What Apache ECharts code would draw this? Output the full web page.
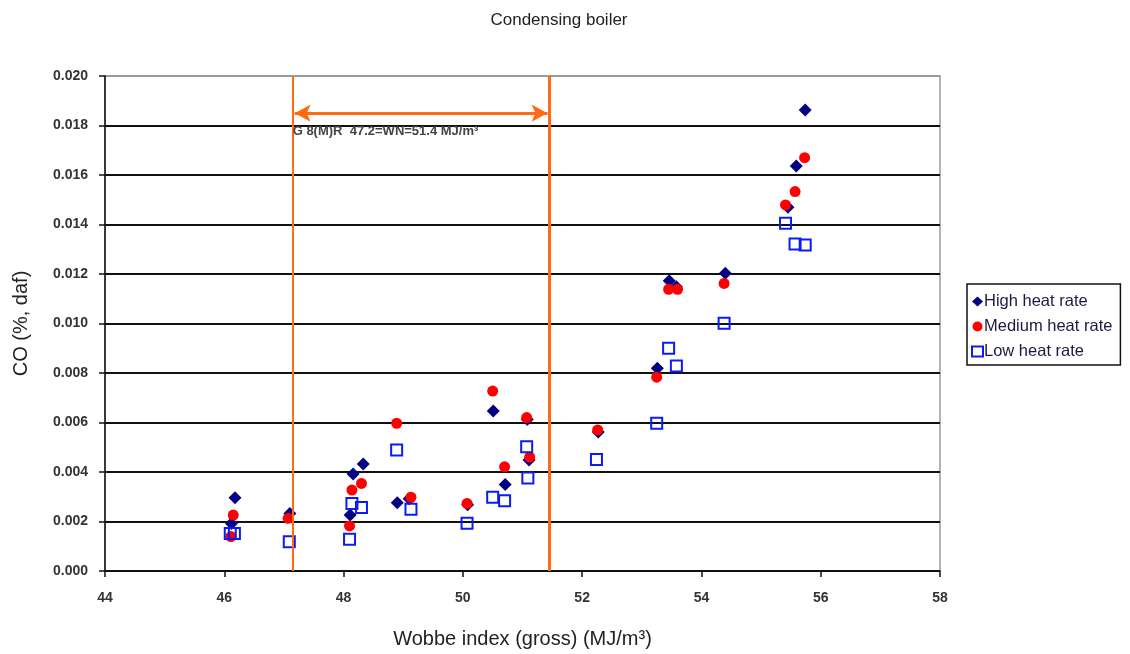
<!DOCTYPE html>
<html>
<head>
<meta charset="utf-8">
<title>Condensing boiler</title>
<script src="https://cdn.jsdelivr.net/npm/echarts@6/dist/echarts.min.js"></script>
<style>
  html, body { margin: 0; padding: 0; background: #fff; }
  #chart { width: 1130px; height: 654px; }
</style>
</head>
<body>
<div id="chart"></div>
<script>
// Wobbe index (x) vs CO (y)
const highHeat = [
  [46.18, 0.00296], [46.12, 0.00192], [47.10, 0.00232], [48.11, 0.00226],
  [48.16, 0.00392], [48.33, 0.00432], [48.90, 0.00276], [49.10, 0.00292],
  [50.08, 0.00268], [50.51, 0.00646], [50.71, 0.00350], [51.08, 0.00612],
  [51.11, 0.00448], [52.27, 0.00562], [53.26, 0.00819], [53.46, 0.01173],
  [53.58, 0.01148], [54.40, 0.01203], [55.45, 0.01470], [55.59, 0.01636],
  [55.74, 0.01863]
];
const mediumHeat = [
  [46.15, 0.00226], [46.11, 0.00139], [47.07, 0.00213], [48.10, 0.00182],
  [48.14, 0.00327], [48.30, 0.00354], [48.89, 0.00597], [49.13, 0.00298],
  [50.07, 0.00273], [50.50, 0.00727], [50.70, 0.00421], [51.07, 0.00620],
  [51.12, 0.00460], [52.26, 0.00570], [53.25, 0.00783], [53.45, 0.01138],
  [53.60, 0.01138], [54.38, 0.01162], [55.41, 0.01479], [55.57, 0.01533],
  [55.73, 0.01670]
];
const lowHeat = [
  [46.10, 0.00152], [46.17, 0.00152], [47.09, 0.00118], [48.10, 0.00128],
  [48.14, 0.00273], [48.30, 0.00257], [48.89, 0.00489], [49.13, 0.00249],
  [50.07, 0.00193], [50.50, 0.00298], [50.70, 0.00284], [51.07, 0.00502],
  [51.09, 0.00376], [52.24, 0.00451], [53.25, 0.00597], [53.45, 0.00900],
  [53.58, 0.00828], [54.38, 0.01001], [55.41, 0.01405], [55.57, 0.01321],
  [55.74, 0.01317]
];

// G 8(M)R band limits and arrow height
const bandLimits = [47.15, 51.45];
const arrowY = 0.0185;
const bandLabel = 'G 8(M)R  47.2=WN=51.4 MJ/m\u00B3';

const xTicks = { min: 44, max: 58, interval: 2 };
const yTicks = { min: 0, max: 0.02, interval: 0.002 };

const font = '"Liberation Sans", Arial, sans-serif';
const orange = '#ff6a13';

const chart = echarts.init(document.getElementById('chart'), null, { renderer: 'canvas' });

// gridline colours: black except the top one which is the grey plot border
const gridColours = [];
for (let i = 0; i < 10; i++) gridColours.push('#111');
gridColours.push('#9a9a9a');

chart.setOption({
  backgroundColor: '#fff',
  animation: false,
  title: {
    text: 'Condensing boiler',
    left: 554,
    textAlign: 'center',
    top: 7,
    textStyle: { fontFamily: font, fontSize: 17, fontWeight: 'normal', color: '#222' }
  },
  legend: {
    orient: 'vertical',
    left: 967,
    top: 284,
    padding: [9, 8, 5, 4],
    itemGap: 8,
    itemWidth: 11,
    itemHeight: 10,
    borderColor: '#111',
    borderWidth: 1.5,
    textStyle: { fontFamily: font, fontSize: 16.5, color: '#1a1a40', padding: [0, 0, 0, -4] },
    data: [
      { name: 'High heat rate', icon: 'diamond' },
      { name: 'Medium heat rate', icon: 'circle' },
      { name: 'Low heat rate', icon: 'rect' }
    ]
  },
  grid: {
    left: 105, right: 190, top: 76, bottom: 83,
    outerBoundsMode: 'none',
    containLabel: false,
    show: true,
    borderColor: '#9a9a9a',
    borderWidth: 1.5
  },
  xAxis: {
    type: 'value',
    min: xTicks.min, max: xTicks.max, interval: xTicks.interval,
    name: 'Wobbe index (gross) (MJ/m\u00B3)',
    nameLocation: 'middle',
    nameGap: 58,
    nameTextStyle: { fontFamily: font, fontSize: 20, color: '#222' },
    axisLine: { show: true, onZero: false, lineStyle: { color: '#111', width: 1.5 } },
    axisTick: { show: true, inside: false, length: 6, lineStyle: { color: '#111', width: 1.5 } },
    axisLabel: { fontFamily: font, fontSize: 14, fontWeight: 'bold', color: '#333', margin: 20 },
    splitLine: { show: false }
  },
  yAxis: {
    type: 'value',
    min: yTicks.min, max: yTicks.max, interval: yTicks.interval,
    name: 'CO (%, daf)',
    nameLocation: 'middle',
    nameGap: 74,
    nameTextStyle: { fontFamily: font, fontSize: 20, color: '#222' },
    axisLine: { show: true, lineStyle: { color: '#111', width: 1.5 } },
    axisTick: { show: true, inside: false, length: 6, lineStyle: { color: '#111', width: 1.5 } },
    axisLabel: {
      fontFamily: font, fontSize: 14, fontWeight: 'bold', color: '#333', margin: 17,
      formatter: v => v.toFixed(3)
    },
    splitLine: { show: true, lineStyle: { color: gridColours, width: 2 } }
  },
  series: [
    {
      name: 'band',
      type: 'scatter',
      data: [],
      silent: true,
      markLine: {
        silent: true,
        symbol: ['none', 'none'],
        label: { show: false },
        animation: false,
        data: [
          { xAxis: bandLimits[0], lineStyle: { color: orange, width: 2, type: 'solid' } },
          { xAxis: bandLimits[1], lineStyle: { color: orange, width: 3, type: 'solid' } },
          [
            {
              coord: [bandLimits[0] + 0.03, arrowY],
              symbol: 'arrow',
              symbolSize: [13, 16],
              lineStyle: { color: orange, width: 3, type: 'solid' },
              label: {
                show: true,
                position: 'insideStartBottom',
                formatter: bandLabel,
                fontFamily: font,
                fontSize: 13,
                fontWeight: 'bold',
                color: '#444',
                distance: [-2, 12]
              }
            },
            { coord: [bandLimits[1] - 0.03, arrowY], symbol: 'arrow', symbolSize: [13, 16] }
          ]
        ]
      }
    },
    {
      name: 'High heat rate',
      type: 'scatter',
      symbol: 'diamond',
      symbolSize: 13,
      itemStyle: { color: '#000080', opacity: 1 },
      data: highHeat
    },
    {
      name: 'Medium heat rate',
      type: 'scatter',
      symbol: 'circle',
      symbolSize: 11,
      itemStyle: { color: '#ff0000', opacity: 1 },
      data: mediumHeat
    },
    {
      name: 'Low heat rate',
      type: 'scatter',
      symbol: 'rect',
      symbolSize: 11,
      itemStyle: { color: 'rgba(255,255,255,0)', borderColor: '#0a1cf5', borderWidth: 2, opacity: 1 },
      data: lowHeat
    }
  ]
});
</script>
</body>
</html>
